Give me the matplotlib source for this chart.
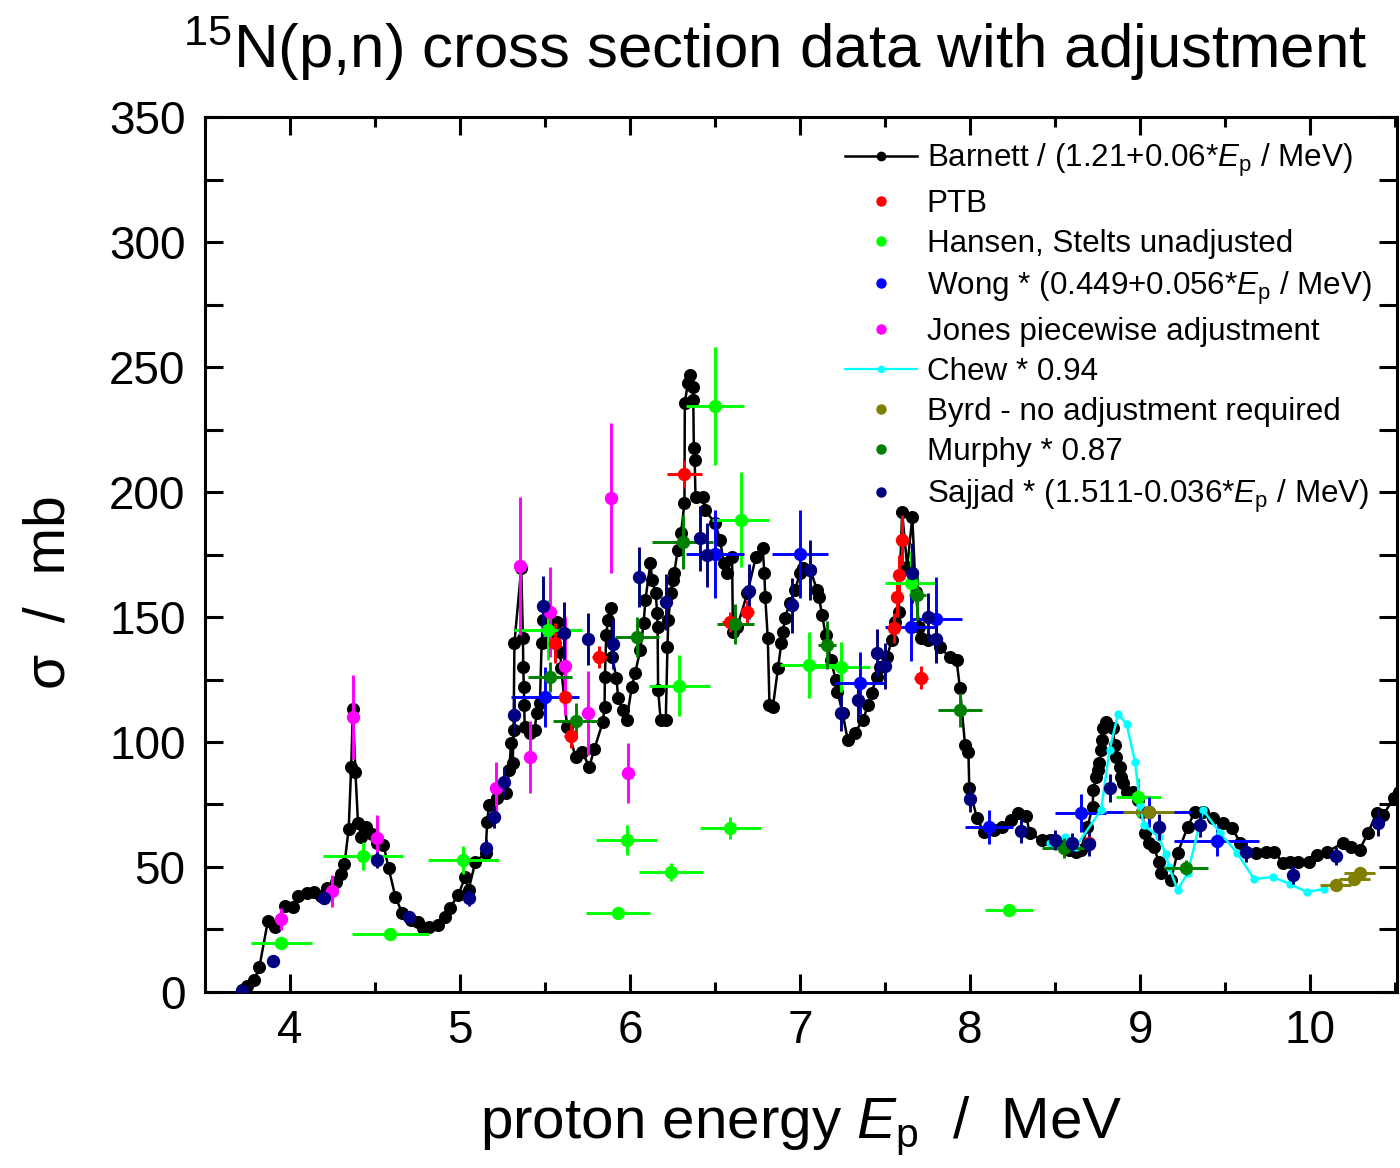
import numpy as np
import matplotlib
matplotlib.use("Agg")
import matplotlib.pyplot as plt
from matplotlib.lines import Line2D
from matplotlib.ticker import MultipleLocator

plt.rcParams['font.family'] = ['Liberation Sans', 'DejaVu Sans']
plt.rcParams['mathtext.fontset'] = 'custom'
plt.rcParams['mathtext.rm'] = 'Liberation Sans'
plt.rcParams['mathtext.it'] = 'Liberation Sans:italic'

# ---- Barnett (black line) ----
barnett_E = [3.72, 3.75, 3.79, 3.82, 3.87, 3.91, 3.97, 4.02, 4.05, 4.10, 4.14, 4.18, 4.22, 4.27,
             4.30, 4.32, 4.345, 4.36, 4.37, 4.385, 4.40, 4.42, 4.45, 4.48, 4.51, 4.55, 4.58, 4.62,
             4.66, 4.71, 4.75, 4.78, 4.82, 4.87, 4.91, 4.94, 4.99, 5.03, 5.05, 5.09, 5.15, 5.16,
             5.17, 5.22, 5.27, 5.29, 5.30, 5.31, 5.315, 5.32, 5.36, 5.37, 5.372, 5.375, 5.378,
             5.38, 5.41, 5.44, 5.45, 5.47, 5.48, 5.49, 5.52, 5.55, 5.57, 5.59, 5.595, 5.63, 5.68,
             5.72, 5.76, 5.79, 5.84, 5.85, 5.852, 5.86, 5.87, 5.89, 5.895, 5.92, 5.93, 5.96, 5.98,
             6.01, 6.03, 6.06, 6.08, 6.09, 6.12, 6.13, 6.15, 6.16, 6.162, 6.165, 6.18, 6.21, 6.22,
             6.225, 6.24, 6.25, 6.26, 6.28, 6.30, 6.32, 6.322, 6.34, 6.35, 6.37, 6.372, 6.375,
             6.38, 6.385, 6.43, 6.44, 6.50, 6.53, 6.55, 6.57, 6.60, 6.605, 6.63, 6.69, 6.74, 6.78,
             6.79, 6.795, 6.81, 6.82, 6.84, 6.87, 6.89, 6.90, 6.91, 6.94, 6.97, 7.00, 7.02, 7.06,
             7.10, 7.11, 7.13, 7.15, 7.18, 7.21, 7.22, 7.25, 7.28, 7.32, 7.37, 7.40, 7.42, 7.45,
             7.47, 7.51, 7.54, 7.56, 7.58, 7.60, 7.63, 7.66, 7.68, 7.70, 7.71, 7.75, 7.82, 7.88,
             7.92, 7.94, 7.97, 7.99, 7.995, 8.04, 8.08, 8.14, 8.19, 8.24, 8.28, 8.33, 8.35, 8.42,
             8.47, 8.52, 8.58, 8.62, 8.65, 8.69, 8.72, 8.725, 8.74, 8.75, 8.76, 8.77, 8.775, 8.78,
             8.80, 8.84, 8.85, 8.86, 8.88, 8.89, 8.90, 8.92, 8.96, 8.99, 9.01, 9.03, 9.05, 9.08,
             9.11, 9.12, 9.18, 9.22, 9.28, 9.32, 9.37, 9.43, 9.49, 9.54, 9.59, 9.68, 9.74, 9.79,
             9.84, 9.88, 9.93, 9.99, 10.04, 10.10, 10.19, 10.24, 10.29, 10.34, 10.39, 10.43,
             10.49, 10.52]
barnett_sig = [0.8, 2.4, 4.8, 10, 28.4, 26, 34.4, 34, 38.4, 39.6, 40, 38.5, 41.6, 44,
               47, 51, 65, 90, 113, 88, 67.6, 62, 66, 63, 59.6, 58.8, 49.6, 38,
               31.6, 28.8, 28, 25.6, 26, 26.8, 30, 33.6, 38.8, 46, 40.8, 52, 55.6, 68,
               74.8, 77.6, 79.6, 88.8, 99.6, 91.6, 104.8, 139.6, 169.6, 141.6, 130, 122, 114.8,
               106, 103.6, 104.8, 111.6, 115.6, 139.6, 148.8, 140, 143, 148, 136, 129.6, 106, 94,
               96, 90, 97.2, 108, 114, 126, 142.8, 148.8, 153.6, 134, 125.6, 117.6, 112.8, 108.8,
               122, 127.6, 136.8, 147.6, 156.8, 171.6, 164.8, 159.6, 151.6, 146, 120.8, 108.8, 108.8, 138,
               148.8, 159.6, 164.8, 167.6, 176.8, 183.6, 195.6, 235.6, 243.6, 246.8, 242, 236.8, 217.6,
               212.8, 198, 198, 192.8, 187.6, 180.8, 171.6, 167.6, 174, 144, 146, 159.6, 174, 177.6,
               167.6, 158, 141.6, 114.8, 114, 129.6, 139.6, 144, 149.6, 155.6, 160.8, 167.6, 169.6, 168.8,
               160.8, 158, 150.8, 142.8, 133, 124.8, 120, 111.6, 100.8, 103.6, 108.8, 114.8, 119.6, 126,
               130, 134, 140.8, 148, 152, 192, 170, 190, 160, 146, 141.6, 140.8, 138, 134,
               132.8, 121.6, 98.8, 96, 81.6, 69.6, 64, 64.8, 66, 68.8, 71.6, 70.4, 63.6, 60.8,
               60.8, 59.6, 56.8, 56, 56.8, 66, 74, 80.8, 86, 88.8, 91.6, 96.8, 100.8, 105.6,
               108, 105.6, 98.8, 94, 90, 86, 83.6, 80, 80, 76.8, 72, 63.6, 59.6, 58,
               52, 47.6, 44.8, 55.6, 66, 72, 72, 69.6, 67.6, 65.6, 59.6, 55.6, 56, 56,
               51.6, 52, 52, 52, 54.8, 56, 59.6, 58, 56.8, 63.6, 71.6, 70.8,
               77.6, 80]

# ---- PTB (red) ----
ptb_E = [5.56, 5.62, 5.65, 5.82, 6.32, 6.59, 6.69, 7.55, 7.57, 7.58, 7.60, 7.71, 8.70]
ptb_sig = [139.6, 118, 102.4, 134, 207.2, 148, 152, 145.6, 158, 166.8, 180.8, 125.8, 59.6]
ptb_xerr = [0.03, 0.04, 0.04, 0.045, 0.105, 0.05, 0.04, 0.04, 0.03, 0.03, 0.03, 0.04, 0.03]
ptb_yerr = [8, 7, 5, 4.3, 5.6, 4, 5, 6, 8, 8, 10, 4.5, 3]

# ---- Hansen, Stelts (lime) ----
hansen_E = [3.95, 4.43, 4.59, 5.02, 5.52, 5.93, 5.98, 6.24, 6.29, 6.50, 6.59, 6.65,
            7.05, 7.24, 7.65, 8.23, 8.99]
hansen_sig = [19.6, 54.4, 23.2, 52.8, 144.8, 31.6, 60.8, 48, 122.6, 234.5, 65.6, 189,
              130.8, 130, 163.6, 32.8, 77.8]
hansen_xerr = [0.18, 0.235, 0.225, 0.21, 0.2, 0.19, 0.18, 0.19, 0.18, 0.17, 0.18, 0.17,
               0.17, 0.17, 0.15, 0.14, 0.13]
hansen_yerr = [2, 5.5, 1.5, 5.5, 12, 2, 6, 3.5, 12.3, 23.7, 4.5, 19, 13.3, 10, 13, 2, 7.7]

# ---- Wong (blue) ----
wong_E = [5.50, 6.50, 7.00, 7.35, 7.65, 7.80, 8.11, 8.65, 9.05, 9.45]
wong_sig = [118, 175.2, 175.2, 123.6, 146, 149.2, 66, 71.6, 72, 60.4]
wong_xerr = [0.2, 0.17, 0.165, 0.15, 0.15, 0.15, 0.14, 0.15, 0.25, 0.25]
wong_yerr = [12, 17.5, 17.5, 12.3, 13.7, 16.7, 6.7, 7.7, 6, 6]

# ---- Jones (magenta) ----
jones_E = [3.95, 4.25, 4.37, 4.51, 5.21, 5.35, 5.41, 5.53, 5.62, 5.75, 5.89, 5.99]
jones_sig = [29.2, 40.4, 110, 61.6, 81.6, 170.4, 94, 152, 130.4, 111.6, 197.6, 87.6]
jones_yerr = [4.3, 6.3, 17, 9, 10.5, 27.6, 14.3, 18, 19.7, 16.7, 30, 12]

# ---- Chew (cyan line) ----
chew_E = [8.47, 8.56, 8.62, 8.77, 8.82, 8.87, 8.92, 8.97, 9.00, 9.02, 9.11, 9.15, 9.17,
          9.22, 9.28, 9.37, 9.47, 9.57, 9.67, 9.78, 9.88, 9.98, 10.08]
chew_sig = [59.6, 62, 58, 72.8, 96.8, 111.2, 107.2, 92, 74.8, 66.8, 62, 55.2, 50,
            40.8, 47.6, 72.8, 63.6, 55.6, 45.2, 46, 43.2, 40, 41.2]

# ---- Byrd (olive) ----
byrd_E = [9.05, 10.15, 10.26, 10.29]
byrd_sig = [72, 42.8, 45.2, 47.6]
byrd_xerr = [0.15, 0.09, 0.09, 0.09]
byrd_yerr = [1.5, 1.5, 1.5, 1.5]

# ---- Murphy (dark green) ----
murphy_E = [5.53, 5.68, 6.04, 6.31, 6.62, 7.16, 7.69, 7.94, 8.55, 9.27]
murphy_sig = [126, 108.4, 142, 180, 147.2, 138.8, 159, 112.8, 57.6, 49.6]
murphy_xerr = [0.13, 0.134, 0.13, 0.18, 0.11, 0.054, 0.05, 0.13, 0.13, 0.13]
murphy_yerr = [6, 7, 8, 10.7, 8, 9.7, 10, 6.7, 4, 3]

# ---- Sajjad (navy) ----
sajjad_E = [3.72, 3.90, 4.20, 4.51, 4.70, 5.05, 5.15, 5.20, 5.26, 5.32, 5.49, 5.61, 5.75,
            5.90, 6.05, 6.21, 6.41, 6.45, 6.70, 6.95, 7.06, 7.24, 7.34, 7.45, 7.50, 7.66,
            7.75, 7.80, 8.00, 8.30, 8.50, 8.60, 8.70, 8.82, 9.11, 9.35, 9.62, 9.90, 10.15, 10.40]
sajjad_sig = [0.5, 12.4, 37.6, 52.8, 30, 37.6, 57.6, 70, 84, 110.8, 154.4, 143.6, 141.2,
              139.2, 166, 156, 181.6, 174.8, 160.4, 154.8, 168.8, 111.6, 116.8, 135.6, 130.4, 167.6,
              150, 141.2, 77.2, 64.4, 60.8, 59.6, 59.2, 81.6, 66, 66.8, 56, 46.8, 54.4, 67.6]
sajjad_yerr = [0.5, 1, 2, 3.3, 1.5, 3.3, 3.7, 4.3, 6, 7.7, 12, 12.3, 10.3,
               10, 12, 11.3, 13, 12.7, 11, 11, 12, 7.3, 7.7, 9.7, 9.3, 12,
               9.7, 9.7, 5.3, 4.7, 4, 4, 4.7, 5.7, 5.3, 4.7, 4, 3.5, 3.5, 5.3]

fig = plt.figure(figsize=(14, 11.68), dpi=100)
ax = fig.add_axes([0.1464, 0.1507, 0.8514, 0.7491])

ms = 8.6
elw = 2.1

ax.plot(barnett_E, barnett_sig, '-o', color='black', lw=1.8, ms=8.4, zorder=2)

ax.errorbar(ptb_E, ptb_sig, xerr=ptb_xerr, yerr=ptb_yerr, fmt='o', color='#ff0000',
            ms=ms, elinewidth=elw, capsize=0, zorder=3)
ax.errorbar(hansen_E, hansen_sig, xerr=hansen_xerr, yerr=hansen_yerr, fmt='o', color='#00ff00',
            ms=ms, elinewidth=elw, capsize=0, zorder=3)
ax.errorbar(wong_E, wong_sig, xerr=wong_xerr, yerr=wong_yerr, fmt='o', color='#0000ff',
            ms=ms, elinewidth=elw, capsize=0, zorder=3)
ax.errorbar(jones_E, jones_sig, yerr=jones_yerr, fmt='o', color='#ff00ff',
            ms=ms, elinewidth=elw, capsize=0, zorder=3)
ax.plot(chew_E, chew_sig, '-o', color='#00ffff', lw=1.8, ms=5, zorder=3)
ax.errorbar(byrd_E, byrd_sig, xerr=byrd_xerr, yerr=byrd_yerr, fmt='o', color='#808000',
            ms=ms, elinewidth=elw, capsize=0, zorder=3)
ax.errorbar(murphy_E, murphy_sig, xerr=murphy_xerr, yerr=murphy_yerr, fmt='o', color='#008000',
            ms=ms, elinewidth=elw, capsize=0, zorder=3)
ax.errorbar(sajjad_E, sajjad_sig, yerr=sajjad_yerr, fmt='o', color='#000080',
            ms=ms, elinewidth=elw, capsize=0, zorder=3)

ax.set_xlim(3.5, 10.51)
ax.set_ylim(0, 350)
ax.xaxis.set_major_locator(MultipleLocator(1))
ax.xaxis.set_minor_locator(MultipleLocator(0.5))
ax.yaxis.set_major_locator(MultipleLocator(50))
ax.yaxis.set_minor_locator(MultipleLocator(25))
ax.tick_params(which='both', direction='in', top=True, right=True, width=2.2, labelsize=33)
ax.tick_params(axis='x', which='major', length=13, pad=12)
ax.tick_params(axis='x', which='minor', length=7)
ax.tick_params(axis='y', which='both', length=13, pad=14)
for sp in ax.spines.values():
    sp.set_linewidth(2.2)

ax.set_xlabel(r'proton energy $E_\mathrm{p}$  /  MeV', fontsize=42, labelpad=30)
ax.set_ylabel('σ  /  mb', fontsize=41)
ax.yaxis.set_label_coords(-0.108, 0.457)

fig.text(0.554, 0.958, r'$^{15}$N(p,n) cross section data with adjustment',
         fontsize=44.5, ha='center', va='center')

handles = [
    Line2D([], [], color='black', lw=1.8, marker='o', ms=6),
    Line2D([], [], color='#ff0000', ls='none', marker='o', ms=6.5),
    Line2D([], [], color='#00ff00', ls='none', marker='o', ms=6.5),
    Line2D([], [], color='#0000ff', ls='none', marker='o', ms=6.5),
    Line2D([], [], color='#ff00ff', ls='none', marker='o', ms=6.5),
    Line2D([], [], color='#00ffff', lw=1.6, marker='o', ms=4.5),
    Line2D([], [], color='#808000', ls='none', marker='o', ms=6.5),
    Line2D([], [], color='#008000', ls='none', marker='o', ms=6.5),
    Line2D([], [], color='#000080', ls='none', marker='o', ms=6.5),
]
labels = [
    r'Barnett / (1.21+0.06*$E_\mathrm{p}$ / MeV)',
    'PTB',
    'Hansen, Stelts unadjusted',
    r'Wong * (0.449+0.056*$E_\mathrm{p}$ / MeV)',
    'Jones piecewise adjustment',
    'Chew * 0.94',
    'Byrd - no adjustment required',
    'Murphy * 0.87',
    r'Sajjad * (1.511-0.036*$E_\mathrm{p}$ / MeV)',
]
ax.legend(handles, labels, loc='upper left', bbox_to_anchor=(0.537, 0.972), frameon=False,
          fontsize=22.6, handlelength=2.3, handletextpad=0.3, labelspacing=0.325,
          borderaxespad=0, borderpad=0)

fig.savefig('out.png', dpi=100)
